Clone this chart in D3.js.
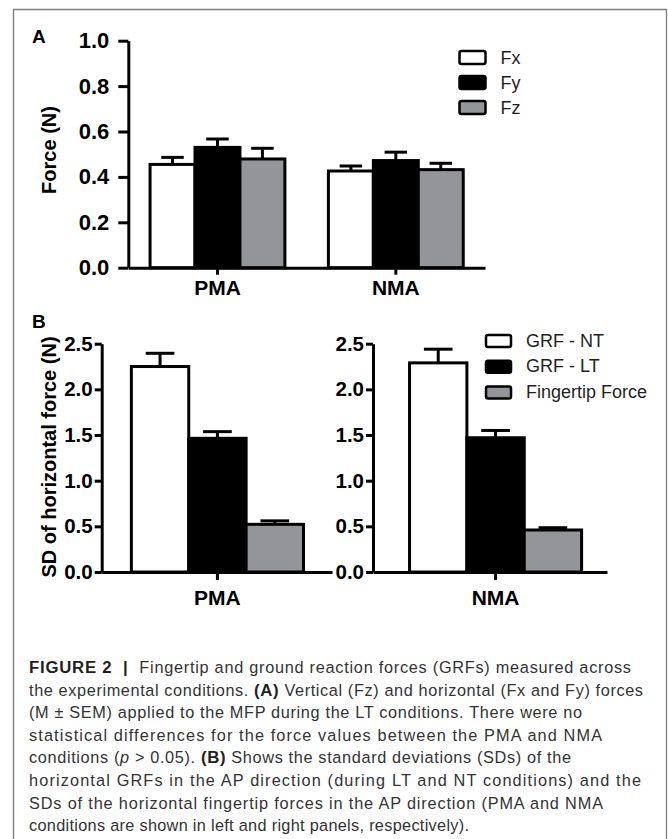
<!DOCTYPE html>
<html>
<head>
<meta charset="utf-8">
<script src="https://cdn.jsdelivr.net/npm/d3@7"></script>
<style>
  html, body { margin: 0; padding: 0; background: #fff; }
  svg { display: block; }
</style>
</head>
<body>
<script>
// ---------- DATA ----------
const conditions = ["PMA", "NMA"];
const forceSeries = ["Fx", "Fy", "Fz"];
const fxMean = [0.455, 0.426];
const fxSem  = [0.031, 0.022];
const fyMean = [0.530, 0.472];
const fySem  = [0.037, 0.037];
const fzMean = [0.479, 0.432];
const fzSem  = [0.047, 0.028];
const forceTicks = [0, 0.2, 0.4, 0.6, 0.8, 1.0];

const sdSeries = ["GRF - NT", "GRF - LT", "Fingertip Force"];
const pmaSD  = [2.25, 1.464, 0.522];
const pmaSEM = [0.145, 0.073, 0.038];
const nmaSD  = [2.29, 1.47, 0.46];
const nmaSEM = [0.15, 0.08, 0.025];
const sdTicks = [0, 0.5, 1.0, 1.5, 2.0, 2.5];

const seriesFill = ["#ffffff", "#000000", "#939598"];

const captionLines = [
  [{t: "FIGURE 2  |  ", b: true}, {t: "Fingertip and ground reaction forces (GRFs) measured across"}],
  [{t: "the experimental conditions. "}, {t: "(A)", b: true}, {t: " Vertical (Fz) and horizontal (Fx and Fy) forces"}],
  [{t: "(M ± SEM) applied to the MFP during the LT conditions. There were no"}],
  [{t: "statistical differences for the force values between the PMA and NMA"}],
  [{t: "conditions ("}, {t: "p", i: true}, {t: " > 0.05). "}, {t: "(B)", b: true}, {t: " Shows the standard deviations (SDs) of the"}],
  [{t: "horizontal GRFs in the AP direction (during LT and NT conditions) and the"}],
  [{t: "SDs of the horizontal fingertip forces in the AP direction (PMA and NMA"}],
  [{t: "conditions are shown in left and right panels, respectively)."}]
];

// ---------- SETUP ----------
const W = 668, H = 839;
const FONT = "'Liberation Sans', Arial, Helvetica, sans-serif";
const svg = d3.select("body").append("svg").attr("width", W).attr("height", H)
  .style("font-family", FONT);
svg.append("rect").attr("width", W).attr("height", H).attr("fill", "#fff");

// frame
svg.append("path").attr("d", "M13.5,839 V9.5 H666.5 V839")
  .attr("fill", "none").attr("stroke", "#7d7d7d").attr("stroke-width", 1.3);

function styleAxis(g, fontSize) {
  g.select(".domain").attr("stroke", "#000").attr("stroke-width", 3);
  g.selectAll(".tick line").attr("stroke", "#000").attr("stroke-width", 3);
  g.selectAll(".tick text").attr("fill", "#000").attr("font-family", FONT)
    .attr("font-weight", "bold").attr("font-size", fontSize);
}

function drawBars(g, x0, xs, y, cats, seriesNames, means, sems) {
  cats.forEach((c, ci) => {
    seriesNames.forEach((s, si) => {
      const v = means[si][ci], e = sems[si][ci];
      const bx = x0(c) + xs(s), bw = xs.bandwidth();
      g.append("rect")
        .attr("x", bx).attr("y", y(v))
        .attr("width", bw).attr("height", y(0) - y(v))
        .attr("fill", seriesFill[si]).attr("stroke", "#000").attr("stroke-width", 3);
      const cx = bx + bw / 2;
      g.append("line").attr("x1", cx).attr("x2", cx).attr("y1", y(v)).attr("y2", y(v + e))
        .attr("stroke", "#000").attr("stroke-width", 3);
      g.append("line").attr("x1", cx - bw / 4).attr("x2", cx + bw / 4)
        .attr("y1", y(v + e)).attr("y2", y(v + e))
        .attr("stroke", "#000").attr("stroke-width", 3);
    });
  });
}

function legend(g, names, x, y0, step, bw, bh, tx, fs) {
  names.forEach((n, i) => {
    g.append("rect").attr("x", x).attr("y", y0 + i * step).attr("width", bw).attr("height", bh)
      .attr("rx", 2).attr("fill", seriesFill[i]).attr("stroke", "#000").attr("stroke-width", 2.5);
    g.append("text").attr("x", tx).attr("y", y0 + i * step + bh - 0.5)
      .attr("font-size", fs).attr("fill", "#231f20").text(n);
  });
}

// ---------- PANEL A ----------
const gA = svg.append("g");
const yA = d3.scaleLinear().domain([0, 1]).range([267.7, 40.7]);
const xA = d3.scaleBand().domain(conditions).range([128.3, 485])
  .paddingInner(0.244).paddingOuter(0.122);
const xAs = d3.scaleBand().domain(forceSeries).range([0, xA.bandwidth()]);

drawBars(gA, xA, xAs, yA, conditions, forceSeries,
  [fxMean, fyMean, fzMean], [fxSem, fySem, fzSem]);

gA.append("g").attr("transform", "translate(128.3,0)")
  .call(d3.axisLeft(yA).tickValues(forceTicks).tickFormat(d3.format(".1f"))
    .tickSize(10).tickPadding(9).tickSizeOuter(0))
  .call(g => styleAxis(g, 22));
gA.append("g").attr("transform", "translate(0,267.7)")
  .call(d3.axisBottom(xA).tickSizeInner(7).tickSizeOuter(0).tickPadding(5))
  .call(g => styleAxis(g, 21));

gA.append("text").attr("transform", "translate(55.5,150) rotate(-90)")
  .attr("text-anchor", "middle").attr("font-weight", "bold").attr("font-size", 20)
  .attr("fill", "#000").text("Force (N)");
gA.append("text").attr("x", 32).attr("y", 43).attr("font-weight", "bold")
  .attr("font-size", 19).attr("fill", "#000").text("A");

legend(gA, forceSeries, 459.5, 51, 25, 26, 13, 500.5, 18);

// ---------- PANEL B ----------
const gB = svg.append("g");
const yB = d3.scaleLinear().domain([0, 2.5]).range([572, 343.7]);

function panelB(axisX0, axisX1, padOuter, align, cat, means, sems) {
  const x = d3.scaleBand().domain([cat]).range([axisX0, axisX1])
    .paddingInner(0).paddingOuter(padOuter).align(align);
  const xs = d3.scaleBand().domain(sdSeries).range([0, x.bandwidth()]);
  drawBars(gB, x, xs, yB, [cat], sdSeries, means.map(v => [v]), sems.map(v => [v]));
  gB.append("g").attr("transform", `translate(${axisX0},0)`)
    .call(d3.axisLeft(yB).tickValues(sdTicks).tickFormat(d3.format(".1f"))
      .tickSize(7).tickPadding(2).tickSizeOuter(0))
    .call(g => styleAxis(g, 20.5));
  gB.append("g").attr("transform", "translate(0,572)")
    .call(d3.axisBottom(x).tickSizeInner(8).tickSizeOuter(0).tickPadding(10))
    .call(g => styleAxis(g, 21));
}
panelB(101.7, 332, 0.169, 0.51, conditions[0], pmaSD, pmaSEM);
panelB(373, 607, 0.180, 0.59, conditions[1], nmaSD, nmaSEM);

gB.append("text").attr("transform", "translate(55.5,457) rotate(-90)")
  .attr("text-anchor", "middle").attr("font-weight", "bold").attr("font-size", 20)
  .attr("fill", "#000").text("SD of horizontal force (N)");
gB.append("text").attr("x", 32).attr("y", 328).attr("font-weight", "bold")
  .attr("font-size", 19).attr("fill", "#000").text("B");

legend(gB, sdSeries, 486, 335, 25.7, 25, 12, 526, 18);

// ---------- CAPTION ----------
// right edge of each caption line in the reference (layout only)
const captionRight = [631, 643, 582, 602, 571, 641, 603, 469];
const cap = svg.append("g");
captionLines.forEach((parts, li) => {
  const t = cap.append("text").attr("x", 29).attr("y", 673 + li * 22.6)
    .attr("font-size", 16.3).attr("fill", "#333").attr("xml:space", "preserve")
    .style("white-space", "pre");
  parts.forEach(p => {
    const s = t.append("tspan").text(p.t);
    if (p.b) s.attr("font-weight", "bold").attr("fill", "#231f20").attr("font-size", 16.8);
    if (p.i) s.attr("font-style", "italic");
  });
  const natural = t.node().getComputedTextLength();
  const n = parts.reduce((a, p) => a + p.t.length, 0);
  const target = captionRight[li] - 29;
  const ls = Math.max(-0.3, Math.min(1.2, (target - natural) / (n - 1)));
  t.attr("letter-spacing", ls);
});
</script>
</body>
</html>
